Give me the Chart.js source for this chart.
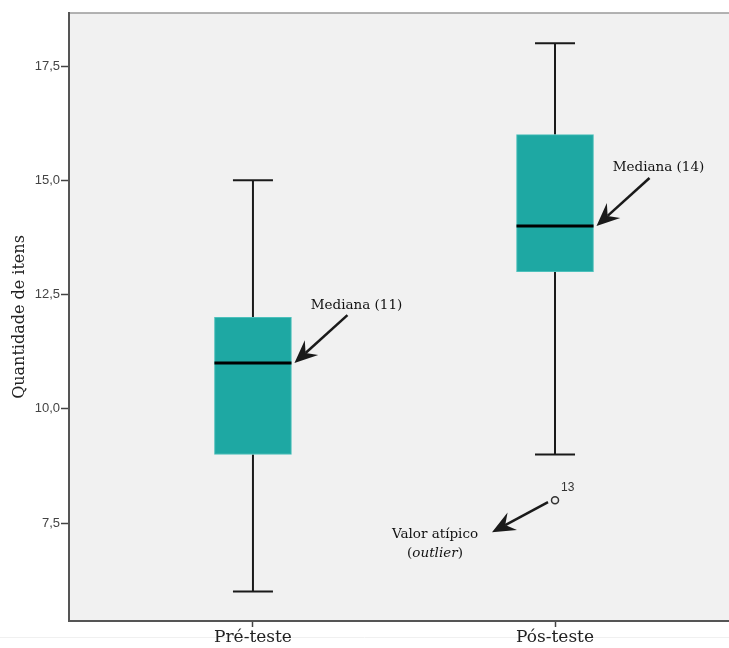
<!DOCTYPE html>
<html>
<head>
<meta charset="utf-8">
<script src="https://cdn.jsdelivr.net/npm/chart.js@4/dist/chart.umd.min.js"></script>
<style>
html,body{margin:0;padding:0;background:#fff;}
#wrap{width:729px;height:648px;}
</style>
</head>
<body>
<div id="wrap"><canvas id="c" width="729" height="648"></canvas></div>
<script>
const categories = ['Pré-teste', 'Pós-teste'];
const minValues = [6, 9];
const q1Values = [9, 13];
const medianValues = [11, 14];
const q3Values = [12, 16];
const maxValues = [15, 18];
const outlierCategory = [2];
const outlierValues = [8];
const outlierLabels = ['13'];
const medianNotes = ['Mediana (11)', 'Mediana (14)'];
const outlierNote = ['Valor atípico', '(outlier)'];
const yTicks = [7.5, 10, 12.5, 15, 17.5];
const yAxisTitle = 'Quantidade de itens';

const catPositions = categories.map((_, i) => i + 1);
const BOX_W = 77;
const NOTE_FONT = '13.5px "DejaVu Serif"';
const NOTE_FONT_I = 'italic 13.5px "DejaVu Serif"';

function drawArrow(ctx, x1, y1, x2, y2) {
  const ang = Math.atan2(y2 - y1, x2 - x1);
  const len = 23, hw = 10, notch = 15;
  const bx = x2 - Math.cos(ang) * notch, by = y2 - Math.sin(ang) * notch;
  ctx.save();
  ctx.strokeStyle = '#1a1a1a';
  ctx.fillStyle = '#1a1a1a';
  ctx.lineWidth = 2.5;
  ctx.beginPath();
  ctx.moveTo(x1, y1);
  ctx.lineTo(bx, by);
  ctx.stroke();
  const backX = x2 - Math.cos(ang) * len, backY = y2 - Math.sin(ang) * len;
  const px = -Math.sin(ang), py = Math.cos(ang);
  ctx.beginPath();
  ctx.moveTo(x2, y2);
  ctx.lineTo(backX + px * hw, backY + py * hw);
  ctx.lineTo(bx, by);
  ctx.lineTo(backX - px * hw, backY - py * hw);
  ctx.closePath();
  ctx.fill();
  ctx.restore();
}

const boxPlugin = {
  id: 'boxExtras',
  beforeDraw(chart) {
    const {ctx, chartArea: a} = chart;
    ctx.save();
    ctx.fillStyle = '#f1f1f1';
    ctx.fillRect(a.left, a.top, a.right - a.left, a.bottom - a.top);
    ctx.strokeStyle = '#9a9a9a';
    ctx.lineWidth = 1.5;
    ctx.beginPath();
    ctx.moveTo(a.left, a.top);
    ctx.lineTo(a.right, a.top);
    ctx.stroke();
    ctx.strokeStyle = '#f0f0f0';
    ctx.lineWidth = 1;
    ctx.beginPath();
    ctx.moveTo(0, a.bottom + 16.5);
    ctx.lineTo(chart.width, a.bottom + 16.5);
    ctx.stroke();
    ctx.restore();
  },
  beforeDatasetsDraw(chart) {
    const {ctx} = chart;
    const xs = chart.scales.x, ys = chart.scales.y;
    ctx.save();
    ctx.strokeStyle = '#1a1a1a';
    ctx.lineWidth = 2;
    catPositions.forEach((c, i) => {
      const x = xs.getPixelForValue(c);
      const capW = 40;
      [[minValues[i], q1Values[i]], [q3Values[i], maxValues[i]]].forEach(([a, b]) => {
        ctx.beginPath();
        ctx.moveTo(x, ys.getPixelForValue(a));
        ctx.lineTo(x, ys.getPixelForValue(b));
        ctx.stroke();
      });
      [minValues[i], maxValues[i]].forEach(v => {
        const y = ys.getPixelForValue(v);
        ctx.beginPath();
        ctx.moveTo(x - capW / 2, y);
        ctx.lineTo(x + capW / 2, y);
        ctx.stroke();
      });
    });
    ctx.restore();
  },
  afterDatasetsDraw(chart) {
    const {ctx} = chart;
    const xs = chart.scales.x, ys = chart.scales.y;
    ctx.save();
    catPositions.forEach((c, i) => {
      const x = xs.getPixelForValue(c);
      const y = ys.getPixelForValue(medianValues[i]);
      ctx.strokeStyle = '#000';
      ctx.lineWidth = 3;
      ctx.beginPath();
      ctx.moveTo(x - BOX_W / 2, y);
      ctx.lineTo(x + BOX_W / 2, y);
      ctx.stroke();
      const tipX = x + BOX_W / 2 + 3, tipY = y;
      drawArrow(ctx, tipX + 53, tipY - 48, tipX, tipY);
      ctx.fillStyle = '#111';
      ctx.font = NOTE_FONT;
      ctx.textAlign = 'center';
      ctx.textBaseline = 'middle';
      ctx.fillText(medianNotes[i], tipX + 62, tipY - 58);
    });
    outlierValues.forEach((v, i) => {
      const x = xs.getPixelForValue(outlierCategory[i]);
      const y = ys.getPixelForValue(v);
      ctx.fillStyle = '#333';
      ctx.font = '12px "Liberation Sans"';
      ctx.textAlign = 'left';
      ctx.textBaseline = 'middle';
      ctx.fillText(outlierLabels[i], x + 6, y - 12);
      drawArrow(ctx, x - 7, y + 2, x - 63, y + 32);
      ctx.fillStyle = '#111';
      ctx.textAlign = 'center';
      ctx.font = NOTE_FONT;
      ctx.fillText(outlierNote[0], x - 120, y + 34);
      const inner = outlierNote[1].slice(1, -1);
      const w1 = ctx.measureText('(').width;
      const w2 = ctx.measureText(')').width;
      ctx.font = NOTE_FONT_I;
      const wi = ctx.measureText(inner).width;
      const total = w1 + wi + w2;
      const sx = x - 120 - total / 2;
      ctx.textAlign = 'left';
      ctx.font = NOTE_FONT;
      ctx.fillText('(', sx, y + 53);
      ctx.font = NOTE_FONT_I;
      ctx.fillText(inner, sx + w1, y + 53);
      ctx.font = NOTE_FONT;
      ctx.fillText(')', sx + w1 + wi, y + 53);
    });
    ctx.restore();
  }
};

new Chart(document.getElementById('c'), {
  type: 'bar',
  data: {
    datasets: [
      {
        type: 'bar',
        data: catPositions.map((c, i) => ({x: c, y: [q1Values[i], q3Values[i]]})),
        backgroundColor: '#1ea8a3',
        borderColor: '#4cc0bb',
        borderWidth: 1,
        borderSkipped: false,
        barThickness: BOX_W,
        order: 2
      },
      {
        type: 'scatter',
        data: outlierValues.map((v, i) => ({x: outlierCategory[i], y: v})),
        pointStyle: 'circle',
        pointRadius: 3.5,
        pointBorderWidth: 1.5,
        pointBackgroundColor: '#f1f1f1',
        pointBorderColor: '#333',
        order: 1
      }
    ]
  },
  options: {
    responsive: false,
    animation: false,
    layout: {autoPadding: false, padding: {top: 13, right: 0, bottom: 0, left: 0}},
    plugins: {legend: {display: false}, tooltip: {enabled: false}},
    scales: {
      x: {
        type: 'linear',
        offset: false,
        min: 0.391,
        max: 2.576,
        afterBuildTicks: s => { s.ticks = catPositions.map(v => ({value: v})); },
        afterFit: s => { s.height = 27; s.paddingLeft = 0; s.paddingRight = 0; },
        ticks: {
          callback: v => categories[v - 1] || '',
          color: '#222',
          font: {family: '"DejaVu Serif"', size: 17},
          padding: 0,
          maxRotation: 0,
          autoSkip: false
        },
        grid: {display: true, offset: false, drawOnChartArea: false, drawTicks: true, tickLength: 6, tickColor: '#444', tickWidth: 1.5},
        border: {display: true, color: '#555', width: 2}
      },
      y: {
        type: 'linear',
        min: 5.356,
        max: 18.66,
        afterBuildTicks: s => { s.ticks = yTicks.map(v => ({value: v})); },
        afterFit: s => { s.width = 69; },
        ticks: {
          callback: v => v.toFixed(1).replace('.', ','),
          color: '#444',
          font: {family: '"Liberation Sans"', size: 13},
          padding: 1
        },
        title: {
          display: true,
          text: yAxisTitle,
          color: '#222',
          font: {family: '"DejaVu Serif"', size: 16},
          padding: {top: 10, bottom: 0}
        },
        grid: {display: true, drawOnChartArea: false, drawTicks: true, tickLength: 8, tickColor: '#444', tickWidth: 1.5},
        border: {display: true, color: '#555', width: 2}
      }
    }
  },
  plugins: [boxPlugin]
});
</script>
</body>
</html>
